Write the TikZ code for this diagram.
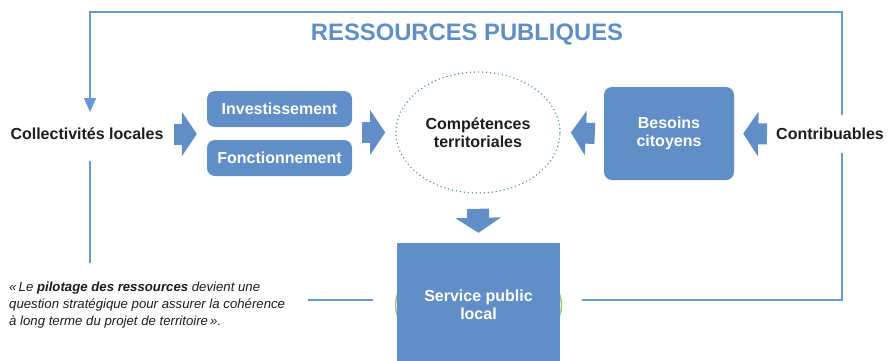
\documentclass[tikz,border=0pt]{standalone}
\usepackage{fontspec}
\setmainfont{Liberation Sans}
\usetikzlibrary{arrows.meta,shapes.geometric}
\definecolor{bl}{RGB}{97,142,198}
\definecolor{ln}{RGB}{104,152,212}
\definecolor{txt}{RGB}{28,28,28}
\definecolor{gr}{RGB}{150,205,120}
\tikzset{
  lbl/.style={font=\fontsize{16}{18}\selectfont\bfseries, text=txt, align=center, inner sep=0pt},
  rbox/.style={fill=bl, rounded corners=8pt, text=white, font=\fontsize{16}{18}\selectfont\bfseries, align=center, inner sep=0pt},
  blockarrow/.style={draw=bl, line width=21pt, -{Triangle[length=15pt,width=44pt]}},
  loopline/.style={draw=ln, line width=1.4pt},
}
\begin{document}
\begin{tikzpicture}[x=1pt,y=-1pt]
\useasboundingbox (0,0) rectangle (888,360);
% title
\node[text=bl, font=\fontsize{23.8}{26}\selectfont\bfseries, inner sep=0pt] (title) at (467,35) {RESSOURCES PUBLIQUES};
% nodes
\node[lbl] (coll) at (87,134) {Collectivités locales};
\node[lbl] (contrib) at (830,134) {Contribuables};
\node[rbox, minimum width=145pt, minimum height=36pt] (inv) at (279.5,109) {Investissement};
\node[rbox, minimum width=145pt, minimum height=36pt] (fonc) at (279.5,158) {Fonctionnement};
\node[draw=bl, line width=1.6pt, line cap=round, dash pattern=on 0pt off 4pt, ellipse, minimum width=164pt, minimum height=121pt, inner sep=0pt] (comp) at (478,132.5) {};
\node[lbl] at (comp.center) {Compétences\\territoriales};
\node[rbox, minimum width=130pt, minimum height=93pt] (bes) at (669,133.5) {Besoins\\citoyens};
\draw[gr, line width=1.5pt] (478.5,305) ellipse (83 and 50);
\node[fill=bl, minimum width=163pt, minimum height=120pt, inner sep=0pt] (serv) at (478.5,303) {};
\node[text=white, font=\fontsize{16}{18}\selectfont\bfseries, align=center, inner sep=0pt] at (478.5,305) {Service public\\local};
% quote
\node[anchor=base west, inner sep=0pt, text=txt, font=\fontsize{13.2}{17}\selectfont\itshape, align=left] (quote) at (9,325.5) {«\,Le \textbf{pilotage des ressources} devient une\\question stratégique pour assurer la cohérence\\à long terme du projet de territoire\,».};
% block arrows
\draw[blockarrow] ([xshift=10pt]coll.east) -- ([xshift=-10pt]inv.west |- coll);
\draw[blockarrow] ([xshift=10pt]inv.east |- comp) -- ([xshift=-10pt]comp.west);
\draw[blockarrow] ([xshift=-9pt]bes.west) -- ([xshift=10pt]comp.east);
\draw[blockarrow] ([xshift=-9pt]contrib.west) -- ([xshift=9pt]bes.east);
\draw[draw=bl, line width=22pt, -{Triangle[length=15pt,width=45pt]}] ([yshift=-15pt]comp.south) -- ([yshift=10pt]serv.north);
% loop lines
\coordinate (tr) at (842,12);
\coordinate (tl) at (90,12);
\coordinate (cin) at (90,112);
\coordinate (rs) at (842,115);
\coordinate (rs2) at (842,153);
\coordinate (br) at (842,300);
\coordinate (sr) at (582,300);
\coordinate (ls1) at (90,161);
\coordinate (ls2) at (90,263);
\coordinate (ql) at (308,300);
\coordinate (sl) at (373,300);
\draw[loopline, -{Triangle[length=14pt,width=12pt]}] (rs) -- (tr) -- (tl) -- (cin);
\draw[loopline] (rs2) -- (br) -- (sr);
\draw[loopline] (ls1) -- (ls2);
\draw[loopline] (ql) -- (sl);
\end{tikzpicture}
\end{document}
